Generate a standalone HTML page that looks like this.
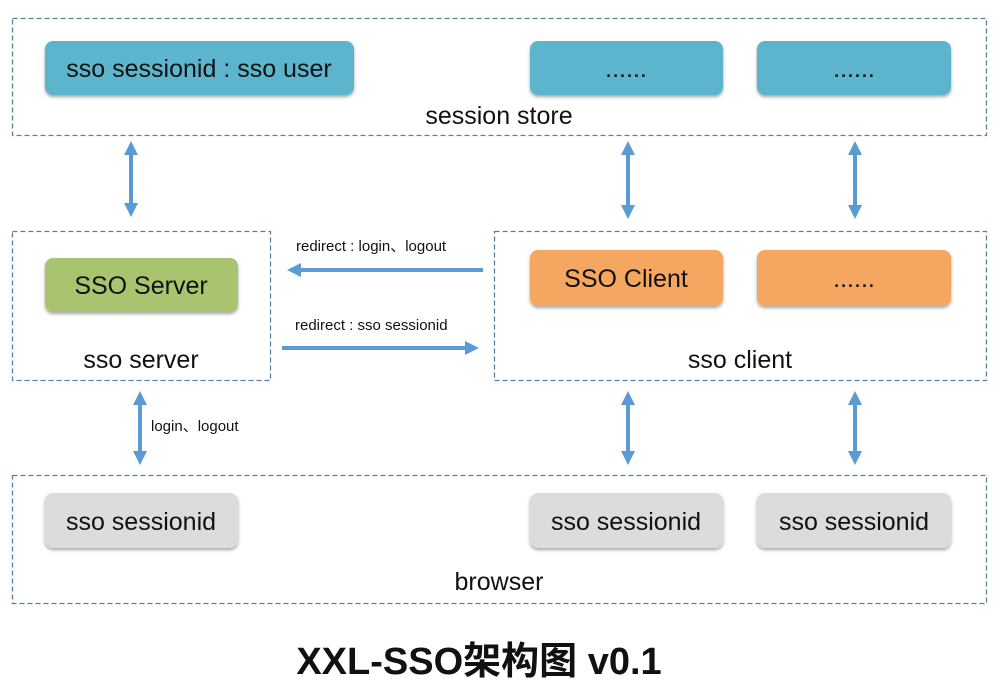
<!DOCTYPE html>
<html><head><meta charset="utf-8"><style>
html,body{margin:0;padding:0;background:#fff;}
svg{display:block;}
text{font-family:"Liberation Sans","Noto Sans CJK SC",sans-serif;fill:#111;}
</style></head><body>
<svg width="1000" height="692" viewBox="0 0 1000 692" xmlns="http://www.w3.org/2000/svg">
<defs>
<filter id="sh" x="-10%" y="-10%" width="120%" height="140%"><feDropShadow dx="0" dy="2" stdDeviation="1.5" flood-color="#000" flood-opacity="0.35"/></filter>
<marker id="ah" markerWidth="14" markerHeight="14" refX="9" refY="7" orient="auto-start-reverse" markerUnits="userSpaceOnUse" viewBox="0 0 14 14"><path d="M0,0 L14,7 L0,14 z" fill="#5b9bd5"/></marker>
</defs>
<g fill="none" stroke="#5a7fa0" stroke-width="1.3" stroke-dasharray="5,3">
<rect x="12.5" y="18.5" width="974" height="117"/>
<rect x="12.5" y="231.5" width="258" height="149"/>
<rect x="494.5" y="231.5" width="492" height="149"/>
<rect x="12.5" y="475.5" width="974" height="128"/>
</g>
<g filter="url(#sh)">
<rect x="45" y="41" width="309" height="54" rx="8" fill="#5bb5cc"/>
<rect x="530" y="41" width="193" height="54" rx="8" fill="#5bb5cc"/>
<rect x="757" y="41" width="194" height="54" rx="8" fill="#5bb5cc"/>
<rect x="45" y="258" width="193" height="54" rx="8" fill="#a9c46e"/>
<rect x="530" y="250" width="193" height="56" rx="8" fill="#f5a660"/>
<rect x="757" y="250" width="194" height="56" rx="8" fill="#f5a660"/>
<rect x="45" y="493" width="193" height="55" rx="8" fill="#dcdcdc"/>
<rect x="530" y="493" width="193" height="55" rx="8" fill="#dcdcdc"/>
<rect x="757" y="493" width="194" height="55" rx="8" fill="#dcdcdc"/>
</g>
<g font-size="25" text-anchor="middle">
<text x="199" y="77">sso sessionid : sso user</text>
<text x="626" y="77">......</text>
<text x="854" y="77">......</text>
<text x="141" y="294">SSO Server</text>
<text x="626" y="287">SSO Client</text>
<text x="854" y="287">......</text>
<text x="141" y="530">sso sessionid</text>
<text x="626" y="530">sso sessionid</text>
<text x="854" y="530">sso sessionid</text>
<text x="499" y="124">session store</text>
<text x="141" y="368">sso server</text>
<text x="740" y="368">sso client</text>
<text x="499" y="590">browser</text>
</g>
<g font-size="15">
<text x="296" y="251">redirect : login、logout</text>
<text x="295" y="330">redirect : sso sessionid</text>
<text x="151" y="431">login、logout</text>
</g>
<g stroke="#5b9bd5" stroke-width="4" marker-start="url(#ah)" marker-end="url(#ah)">
<line x1="131" y1="146" x2="131" y2="212"/>
<line x1="628" y1="146" x2="628" y2="214"/>
<line x1="855" y1="146" x2="855" y2="214"/>
<line x1="140" y1="396" x2="140" y2="460"/>
<line x1="628" y1="396" x2="628" y2="460"/>
<line x1="855" y1="396" x2="855" y2="460"/>
</g>
<g stroke="#5b9bd5" stroke-width="4">
<line x1="483" y1="270" x2="292" y2="270" marker-end="url(#ah)"/>
<line x1="282" y1="348" x2="474" y2="348" marker-end="url(#ah)"/>
</g>
<text x="479" y="674" font-size="38" font-weight="bold" text-anchor="middle">XXL-SSO架构图 v0.1</text>
</svg>
</body></html>
